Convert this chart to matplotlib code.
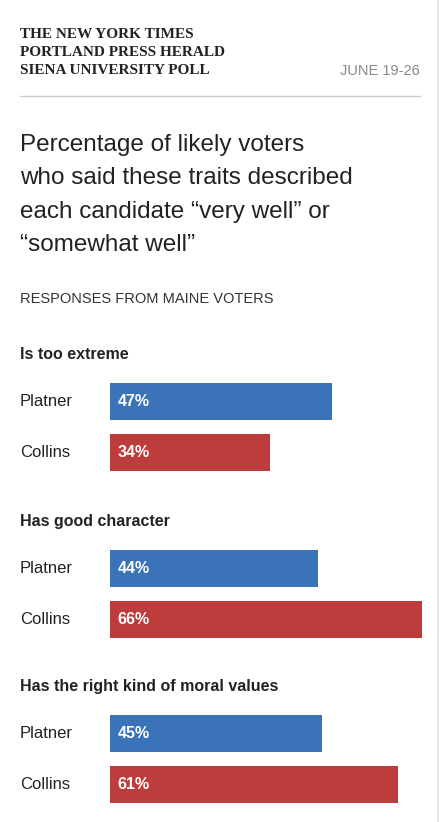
import matplotlib
matplotlib.use("Agg")
import matplotlib.pyplot as plt

questions = ["Is too extreme", "Has good character", "Has the right kind of moral values"]
candidates = ["Platner", "Collins"]
platner = [47, 44, 45]
collins = [34, 66, 61]
colors = {"Platner": "#3a73b7", "Collins": "#bd3c3c"}

W, H = 440, 822
fig = plt.figure(figsize=(W/100, H/100), dpi=100)
bg = fig.add_axes([0, 0, 1, 1])
bg.set_xlim(0, W); bg.set_ylim(H, 0); bg.axis("off")

sans = "Liberation Sans"
for i, t in enumerate(["THE NEW YORK TIMES", "PORTLAND PRESS HERALD", "SIENA UNIVERSITY POLL"]):
    bg.text(20, 35 + 18*i, t, family="Liberation Serif", weight="bold", fontsize=11,
            color="#222222", va="center")
bg.text(420, 71, "JUNE 19-26", family=sans, fontsize=10.5, color="#888888", va="center", ha="right")
bg.plot([20, 420], [96, 96], color="#cccccc", lw=1)
bg.plot([438, 438], [0, H], color="#e6e6e6", lw=1.5)
for i, t in enumerate(["Percentage of likely voters", "who said these traits described",
                       "each candidate \u201cvery well\u201d or", "\u201csomewhat well\u201d"]):
    bg.text(20, 145 + 33.3*i, t, family=sans, fontsize=17.5, color="#222222", va="center")
bg.text(20, 299, "RESPONSES FROM MAINE VOTERS", family=sans, fontsize=10.5, color="#333333", va="center")

group_top = [354, 521, 686]
bx = fig.add_axes([110/W, 0, 1 - 110/W, 1])
bx.set_xlim(0, 330/4.72); bx.set_ylim(H, 0); bx.axis("off")
for g, q in enumerate(questions):
    y0 = group_top[g]
    bg.text(20, y0, q, family=sans, weight="bold", fontsize=11.5, color="#222222", va="center")
    for j, (c, v) in enumerate(zip(candidates, [platner[g], collins[g]])):
        yc = y0 + 47.5 + 50.5*j
        bx.barh(yc, v, height=37, left=0, color=colors[c])
        bg.text(20, yc, c, family=sans, fontsize=12, color="#222222", va="center")
        bx.text(1.6, yc, f"{v}%", family=sans, weight="bold", fontsize=11.5, color="white", va="center")

fig.savefig("out.png", dpi=100, facecolor="white")
